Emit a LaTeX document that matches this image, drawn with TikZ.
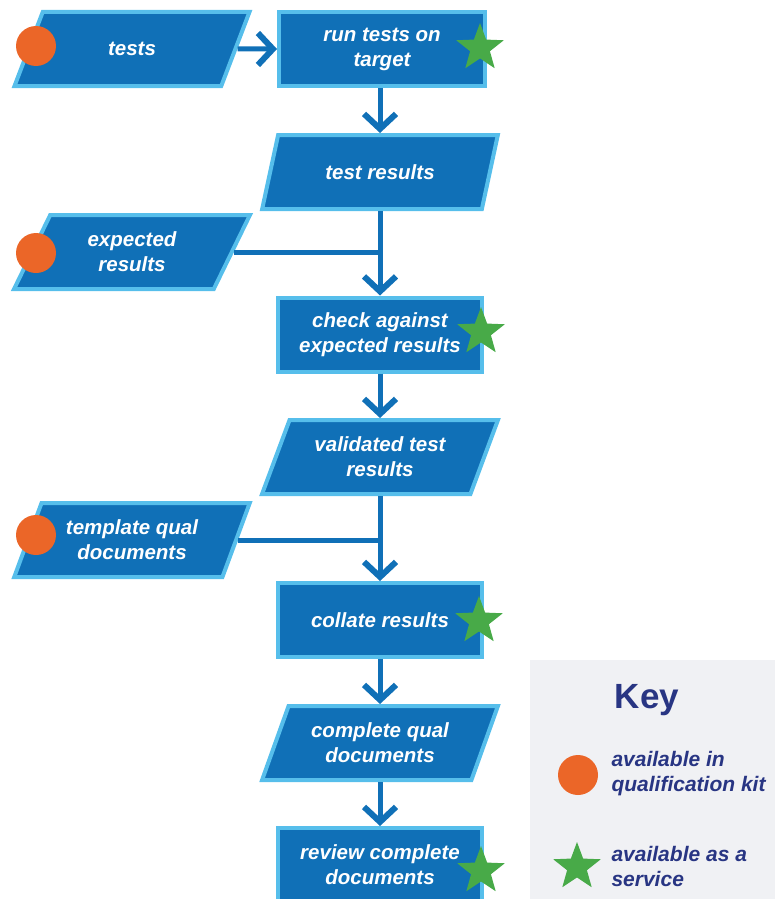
\documentclass[tikz,border=0pt]{standalone}
\usepackage{fontspec}
\setmainfont{Liberation Sans}
\usetikzlibrary{shapes.geometric,arrows.meta,positioning}
\definecolor{boxBlue}{RGB}{16,112,183}
\definecolor{edgeBlue}{RGB}{86,190,235}
\definecolor{kitOrange}{RGB}{235,102,40}
\definecolor{serviceGreen}{RGB}{72,170,72}
\definecolor{keyNavy}{RGB}{40,53,131}
\definecolor{keyGrey}{RGB}{240,241,244}
\tikzset{
    stepBox/.style={
        ,   rectangle
        ,   draw=edgeBlue
        ,   fill=boxBlue
        ,   line width=4pt
        ,   minimum width=204pt
        ,   minimum height=74pt
        ,   inner sep=2pt
        ,   text=white
        ,   align=center
        ,   font={\fontsize{20.5pt}{25pt}\selectfont\bfseries\itshape}
    },
    dataBox/.style={
        ,   trapezium
        ,   trapezium left angle=65
        ,   trapezium right angle=115
        ,   trapezium stretches=true
        ,   draw=edgeBlue
        ,   fill=boxBlue
        ,   line width=4pt
        ,   minimum width=236pt
        ,   minimum height=74pt
        ,   inner sep=2pt
        ,   text=white
        ,   align=center
        ,   font={\fontsize{20.5pt}{25pt}\selectfont\bfseries\itshape}
    },
    kitDot/.style={
        ,   circle
        ,   fill=kitOrange
        ,   minimum size=40pt
        ,   inner sep=0pt
    },
    serviceStar/.style={
        ,   star
        ,   star points=5
        ,   star point ratio=2.4
        ,   fill=serviceGreen
        ,   minimum size=50pt
        ,   inner sep=0pt
    },
    flow/.style={
        ,   draw=boxBlue
        ,   line width=5pt
    },
    flowArrow/.style={
        ,   flow
        ,   -{Straight Barb[length=15pt,width=32pt,line width=6pt]}
    },
    keyText/.style={
        ,   text=keyNavy
        ,   align=left
        ,   font={\fontsize{21pt}{25pt}\selectfont\bfseries\itshape}
    }
}
\begin{document}
\begin{tikzpicture}[x=1pt,y=-1pt]
\useasboundingbox (0,0) rectangle (775,899);

% flow column
\node[dataBox] (tests) at (132,49) {tests};
\node[stepBox, minimum width=206pt] (run) at (382,49) {run tests on\\target};
\node[dataBox] (testres) at (380,172) {test results};
\node[dataBox] (expres) at (132,252) {expected\\results};
\node[stepBox] (check) at (380,334.5) {check against\\expected results};
\node[dataBox] (valres) at (380,457) {validated test\\results};
\node[dataBox] (tmpl) at (132,540) {template qual\\documents};
\node[stepBox] (collate) at (380,620) {collate results};
\node[dataBox] (complete) at (380,743) {complete qual\\documents};
\node[stepBox] (review) at (380,865) {review complete\\documents};

% connectors
\draw[flowArrow] (tests.east) -- (run.west);
\draw[flowArrow] (run.south -| testres.north) -- (testres.north);
\draw[flowArrow] (testres.south) -- (check.north -| testres.south);
\draw[flow] (expres.east) -- (expres.east -| testres.south);
\draw[flowArrow] (check.south -| valres.north) -- (valres.north);
\draw[flowArrow] (valres.south) -- (collate.north -| valres.south);
\draw[flow] (tmpl.east) -- (tmpl.east -| valres.south);
\draw[flowArrow] (collate.south -| complete.north) -- (complete.north);
\draw[flowArrow] (complete.south) -- (review.north -| complete.south);

% markers
\node[kitDot] (dot1) at (36,46) {};
\node[kitDot] (dot2) at (36,253) {};
\node[kitDot] (dot3) at (36,535) {};
\node[serviceStar] (star1) at (480,48) {};
\node[serviceStar] (star2) at (481,332) {};
\node[serviceStar] (star3) at (479,621) {};
\node[serviceStar] (star4) at (481,871) {};

% key
\node[fill=keyGrey, minimum width=245pt, minimum height=240pt, inner sep=0pt] (keybox) at (652.5,780) {};
\node[text=keyNavy, font={\fontsize{35pt}{38pt}\selectfont\bfseries}] (keytitle) at (647,700) {Key};
\node[kitDot] (keydot) at (578,775) {};
\node[serviceStar] (keystar) at (577,867) {};
\node[keyText, anchor=west] (keykit) at (608,774) {available in\\qualification kit};
\node[keyText, anchor=west] (keyserv) at (608,866) {available as a\\service};
\end{tikzpicture}
\end{document}
